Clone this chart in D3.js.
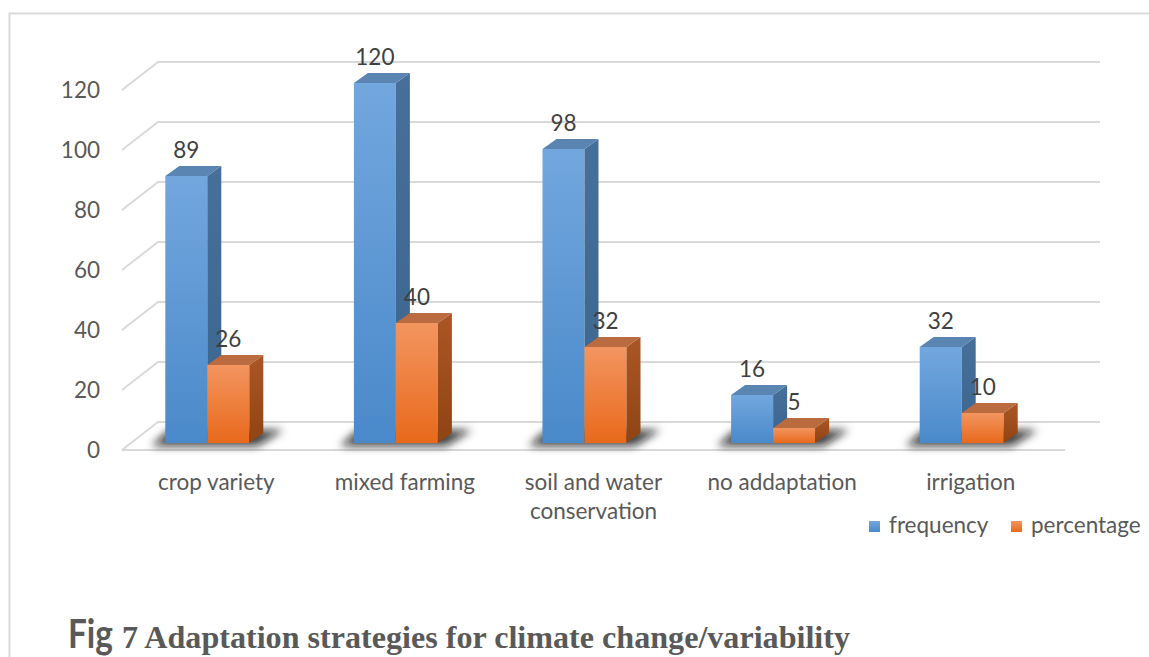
<!DOCTYPE html>
<html>
<head>
<meta charset="utf-8">
<script src="https://cdn.jsdelivr.net/npm/d3@7"></script>
<style>
  html, body { margin: 0; padding: 0; background: #ffffff; }
  svg { display: block; font-family: Lato, "Open Sans", "Liberation Sans", sans-serif; }
</style>
</head>
<body>
<svg id="chart" width="1149" height="657"></svg>
<script>
// Adaptation strategies: respondents (frequency) and share (percentage)
const categories = ["crop variety", "mixed farming", "soil and water conservation", "no addaptation", "irrigation"];
const seriesNames = ["frequency", "percentage"];
const frequency = [89, 120, 98, 16, 32];
const percentage = [26, 40, 32, 5, 10];
const yTicks = [0, 20, 40, 60, 80, 100, 120];
const titleLead = "Fig";
const titleRest = "7 Adaptation strategies for climate change/variability";

const svg = d3.select("#chart");
const W = 1149, H = 657;
const fontSize = 22.5;

// 3D box geometry
const floorDepth = { dx: 36, dy: -28 };   // front edge to back wall
const barDepth = { dx: 14, dy: -10 };     // column depth
const barInset = 7;                        // column front face sits behind the front edge
const barShift = -9;

// Scales
const x = d3.scaleBand().domain(categories).range([122, 1065]);
const yFront = d3.scaleLinear().domain([0, 120]).range([450, 90]);
const yBar = d3.scaleLinear().domain([0, 120]).range([450 - barInset, 90 - barInset]);
const xSeries = d3.scaleBand().domain(seriesNames).range([0, 84]);
const backRight = 1100;

const colors = {
  frequency: { front: ["#72a7de", "#4a89ca"], side: ["#466f99", "#3b6690"], top: "#5a84b2" },
  percentage: { front: ["#f39560", "#e8691b"], side: ["#ab5624", "#8f4413"], top: "#ba6b3f" }
};

// Chart frame
svg.append("rect").attr("width", W).attr("height", H).attr("fill", "#ffffff");
svg.append("rect")
  .attr("x", 9.5).attr("y", 13.5)
  .attr("width", W + 20).attr("height", H + 20)
  .attr("fill", "none").attr("stroke", "#d9d9d9").attr("stroke-width", 2);

const defs = svg.append("defs");
seriesNames.forEach(s => {
  const gf = defs.append("linearGradient").attr("id", "front-" + s)
    .attr("x1", 0).attr("y1", 0).attr("x2", 0).attr("y2", 1);
  gf.append("stop").attr("offset", "0%").attr("stop-color", colors[s].front[0]);
  gf.append("stop").attr("offset", "100%").attr("stop-color", colors[s].front[1]);
  const gs = defs.append("linearGradient").attr("id", "side-" + s)
    .attr("x1", 0).attr("y1", 0).attr("x2", 0).attr("y2", 1);
  gs.append("stop").attr("offset", "0%").attr("stop-color", colors[s].side[0]);
  gs.append("stop").attr("offset", "100%").attr("stop-color", colors[s].side[1]);
});
defs.append("filter").attr("id", "soft")
  .attr("x", "-50%").attr("y", "-100%").attr("width", "200%").attr("height", "300%")
  .append("feGaussianBlur").attr("stdDeviation", 4);

// Gridlines: diagonal from the front edge up to the back wall, then across
const grid = svg.append("g").attr("fill", "none").attr("stroke", "#d9d9d9").attr("stroke-width", 2);
yTicks.forEach(t => {
  const yf = yFront(t);
  const x0 = x.range()[0];
  grid.append("path")
    .attr("d", `M${x0},${yf} L${x0 + floorDepth.dx},${yf + floorDepth.dy} L${backRight},${yf + floorDepth.dy}`);
});
grid.append("path")
  .attr("d", `M${x.range()[0]},${yFront(0)} L${x.range()[1]},${yFront(0)}`);

// Y tick labels
svg.append("g").selectAll("text").data(yTicks).join("text")
  .attr("x", 100).attr("y", d => yFront(d) + 2)
  .attr("text-anchor", "end").attr("dominant-baseline", "middle")
  .attr("font-size", fontSize).attr("fill", "#595959")
  .text(d => d);

const groupLeft = c => x(c) + x.bandwidth() / 2 + barShift - xSeries.range()[1] / 2;

// Floor shadows under each pair of columns
const shadows = svg.append("g").attr("filter", "url(#soft)");
categories.forEach(c => {
  const l = groupLeft(c), r = l + xSeries.range()[1];
  const yb = yBar(0);
  shadows.append("path")
    .attr("d", `M${l - 14},${yb + 3} L${r + 8},${yb + 3} L${r + barDepth.dx + 20},${yb - 13} L${l + 4},${yb - 13} Z`)
    .attr("fill", "#111111").attr("opacity", 0.8);
});

// Columns
const rows = categories.map((c, i) => ({ c, values: [
  { s: "frequency", v: frequency[i] },
  { s: "percentage", v: percentage[i] }
]}));

const bars = svg.append("g");
rows.forEach(row => {
  row.values.forEach(d => {
    const x0 = groupLeft(row.c) + xSeries(d.s);
    const w = xSeries.bandwidth();
    const yt = yBar(d.v), yb = yBar(0);
    const g = bars.append("g");
    g.append("rect").attr("x", x0).attr("y", yt).attr("width", w).attr("height", yb - yt)
      .attr("fill", `url(#front-${d.s})`);
    g.append("path")
      .attr("d", `M${x0 + w},${yt} L${x0 + w + barDepth.dx},${yt + barDepth.dy} L${x0 + w + barDepth.dx},${yb + barDepth.dy} L${x0 + w},${yb} Z`)
      .attr("fill", `url(#side-${d.s})`);
    g.append("path")
      .attr("d", `M${x0},${yt} L${x0 + barDepth.dx},${yt + barDepth.dy} L${x0 + w + barDepth.dx},${yt + barDepth.dy} L${x0 + w},${yt} Z`)
      .attr("fill", colors[d.s].top);
  });
});

// Value labels above each column
const labels = svg.append("g");
rows.forEach(row => {
  row.values.forEach(d => {
    labels.append("text")
      .attr("x", groupLeft(row.c) + xSeries(d.s) + xSeries.bandwidth() / 2)
      .attr("y", yBar(d.v) + barDepth.dy - 8)
      .attr("text-anchor", "middle")
      .attr("font-size", fontSize).attr("fill", "#404040")
      .text(d.v);
  });
});

// Category labels, wrapped to the band width
const catG = svg.append("g");
categories.forEach(c => {
  const cx = x(c) + x.bandwidth() / 2;
  const t = catG.append("text")
    .attr("x", cx).attr("y", 490)
    .attr("text-anchor", "middle").attr("font-size", fontSize).attr("fill", "#595959");
  const words = c.split(" ");
  let line = [];
  let tspan = t.append("tspan").attr("x", cx).attr("dy", 0);
  words.forEach(wd => {
    line.push(wd);
    tspan.text(line.join(" "));
    if (tspan.node().getComputedTextLength() > 175 && line.length > 1) {
      line.pop();
      tspan.text(line.join(" "));
      line = [wd];
      tspan = t.append("tspan").attr("x", cx).attr("dy", 29).text(wd);
    }
  });
});

// Legend
const legend = svg.append("g");
const legendPos = [869, 1011];
seriesNames.forEach((s, i) => {
  legend.append("rect").attr("x", legendPos[i]).attr("y", 521).attr("width", 11).attr("height", 11)
    .attr("fill", `url(#front-${s})`);
  legend.append("text").attr("x", legendPos[i] + 20).attr("y", 527)
    .attr("dominant-baseline", "middle").attr("font-size", fontSize).attr("fill", "#595959")
    .text(s);
});

// Caption: sans lead-in followed by the serif figure title
svg.append("text").attr("x", 68).attr("y", 648)
  .attr("fill", "#595959")
  .style("font-family", "Lato, 'Open Sans', sans-serif")
  .style("font-weight", "bold").style("font-size", "40px")
  .attr("textLength", 45).attr("lengthAdjust", "spacingAndGlyphs")
  .text(titleLead);
svg.append("text").attr("x", 122).attr("y", 648)
  .attr("fill", "#595959")
  .style("font-family", "'Liberation Serif', 'Times New Roman', serif")
  .style("font-weight", "bold").style("font-size", "31px")
  .attr("textLength", 728).attr("lengthAdjust", "spacingAndGlyphs")
  .text(titleRest);
</script>
</body>
</html>
